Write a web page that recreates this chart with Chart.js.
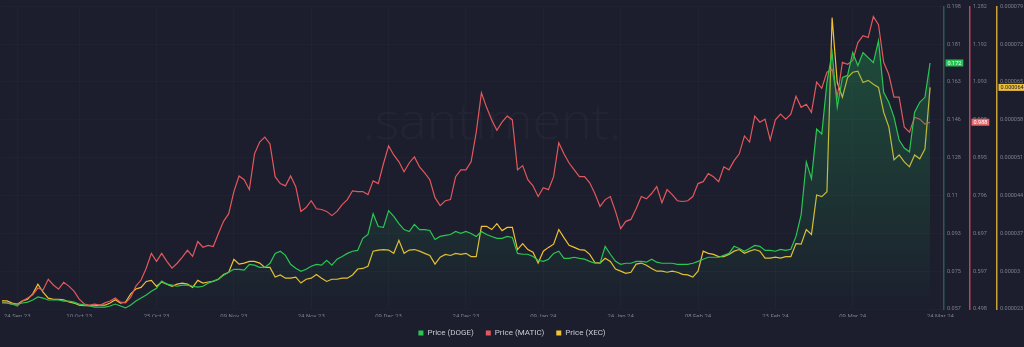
<!DOCTYPE html>
<html lang="en">
<head>
    <meta charset="UTF-8">
    <title>Price DOGE / MATIC / XEC</title>
    <style>
        html, body { margin: 0; padding: 0; background: #1c1d2d; overflow: hidden; }
    </style>
</head>
<body>
    <canvas id="myChart" width="1024" height="347"></canvas>

    <script src="https://cdn.jsdelivr.net/npm/chart.js"></script>
    <script>
        // x axis tick labels and where they sit (day index)
        const xLabels = ['24 Sep 23', '10 Oct 23', '25 Oct 23', '09 Nov 23', '24 Nov 23', '09 Dec 23', '24 Dec 23',
            '09 Jan 24', '24 Jan 24', '08 Feb 24', '23 Feb 24', '09 Mar 24', '24 Mar 24'];
        const xTickVals = [3, 15, 30, 45, 60, 75, 90, 105, 120, 135, 150, 165, 182];

        // right axes tick labels (bottom -> top)
        const dogeTicks = ['0.057', '0.075', '0.093', '0.11', '0.128', '0.146', '0.163', '0.181', '0.198'];
        const maticTicks = ['0.498', '0.597', '0.697', '0.796', '0.895', '0.995', '1.093', '1.192', '1.282'];
        const xecTicks = ['0.000023', '0.00003', '0.000037', '0.000044', '0.000051', '0.000058', '0.000065', '0.000072', '0.000079'];

        const dogePrice = [
            0.0602, 0.0602, 0.0597, 0.0597, 0.0602, 0.0606, 0.0616, 0.0630, 0.0625, 0.0616,
            0.0616, 0.0616, 0.0611, 0.0611, 0.0606, 0.0597, 0.0593, 0.0588, 0.0583, 0.0583,
            0.0583, 0.0588, 0.0597, 0.0588, 0.0579, 0.0593, 0.0611, 0.0625, 0.0639, 0.0657,
            0.0671, 0.0704, 0.0690, 0.0685, 0.0680, 0.0685, 0.0685, 0.0680, 0.0676, 0.0680,
            0.0694, 0.0704, 0.0713, 0.0731, 0.0745, 0.0759, 0.0759, 0.0755, 0.0782, 0.0778,
            0.0768, 0.0768, 0.0787, 0.0833, 0.0843, 0.0824, 0.0782, 0.0764, 0.0750, 0.0759,
            0.0773, 0.0782, 0.0778, 0.0801, 0.0778, 0.0806, 0.0819, 0.0833, 0.0843, 0.0847,
            0.0903, 0.0921, 0.1018, 0.0958, 0.0954, 0.1032, 0.1005, 0.0972, 0.0944, 0.0935,
            0.0968, 0.0944, 0.0944, 0.0940, 0.0898, 0.0912, 0.0917, 0.0921, 0.0935, 0.0926,
            0.0935, 0.0926, 0.0912, 0.0935, 0.0921, 0.0912, 0.0903, 0.0903, 0.0912, 0.0907,
            0.0833, 0.0829, 0.0829, 0.0819, 0.0801, 0.0796, 0.0806, 0.0833, 0.0843, 0.0810,
            0.0810, 0.0815, 0.0810, 0.0806, 0.0796, 0.0787, 0.0787, 0.0866, 0.0829, 0.0796,
            0.0782, 0.0787, 0.0787, 0.0796, 0.0796, 0.0792, 0.0806, 0.0792, 0.0787, 0.0787,
            0.0787, 0.0782, 0.0782, 0.0782, 0.0787, 0.0796, 0.0806, 0.0815, 0.0815, 0.0815,
            0.0824, 0.0833, 0.0866, 0.0856, 0.0843, 0.0856, 0.0870, 0.0866, 0.0847, 0.0847,
            0.0843, 0.0852, 0.0847, 0.0852, 0.0912, 0.1014, 0.1259, 0.1181, 0.1412, 0.1389,
            0.1630, 0.1769, 0.1514, 0.1653, 0.1662, 0.1769, 0.1708, 0.1769, 0.1745, 0.1722,
            0.1824, 0.1583, 0.1537, 0.1468, 0.1361, 0.1324, 0.1306, 0.1491, 0.1537, 0.1560,
            0.172
        ];

        const maticPrice = [
            0.516, 0.514, 0.511, 0.506, 0.519, 0.527, 0.535, 0.553, 0.548, 0.576,
            0.561, 0.550, 0.568, 0.558, 0.545, 0.524, 0.511, 0.508, 0.511, 0.508,
            0.514, 0.519, 0.527, 0.516, 0.514, 0.529, 0.558, 0.574, 0.605, 0.644,
            0.623, 0.644, 0.623, 0.605, 0.618, 0.634, 0.652, 0.636, 0.675, 0.660,
            0.665, 0.662, 0.696, 0.728, 0.748, 0.806, 0.847, 0.837, 0.811, 0.905,
            0.936, 0.949, 0.931, 0.845, 0.827, 0.821, 0.847, 0.819, 0.754, 0.764,
            0.782, 0.761, 0.759, 0.754, 0.743, 0.754, 0.772, 0.785, 0.808, 0.806,
            0.806, 0.798, 0.834, 0.827, 0.879, 0.926, 0.902, 0.884, 0.858, 0.881,
            0.897, 0.871, 0.855, 0.837, 0.790, 0.769, 0.782, 0.785, 0.845, 0.863,
            0.863, 0.884, 0.962, 1.065, 1.027, 0.994, 0.967, 0.988, 1.004, 0.994,
            0.863, 0.874, 0.837, 0.821, 0.793, 0.816, 0.811, 0.845, 0.934, 0.905,
            0.881, 0.863, 0.845, 0.845, 0.829, 0.801, 0.767, 0.785, 0.793, 0.754,
            0.709, 0.728, 0.733, 0.761, 0.793, 0.787, 0.801, 0.819, 0.777, 0.811,
            0.798, 0.782, 0.780, 0.782, 0.793, 0.827, 0.832, 0.853, 0.845, 0.832,
            0.871, 0.863, 0.887, 0.905, 0.952, 0.936, 1.004, 0.988, 0.996, 0.941,
            0.994, 1.009, 0.996, 1.009, 1.056, 1.027, 1.035, 1.014, 1.093, 1.077,
            1.119, 1.127, 1.054, 1.145, 1.140, 1.150, 1.197, 1.215, 1.210, 1.265,
            1.244, 1.145, 1.113, 1.054, 1.054, 0.975, 0.962, 1.001, 0.996, 0.983,
            0.988
        ];

        const xecPrice = [
            24.5e-6, 24.5e-6, 24.1e-6, 23.9e-6, 24.5e-6, 24.8e-6, 25.8e-6, 27.6e-6, 26.1e-6, 25.0e-6,
            24.8e-6, 24.8e-6, 24.7e-6, 24.3e-6, 24.1e-6, 23.7e-6, 23.6e-6, 23.6e-6, 23.6e-6, 23.7e-6,
            23.7e-6, 24.1e-6, 24.7e-6, 24.1e-6, 24.3e-6, 25.8e-6, 26.7e-6, 27.0e-6, 28.1e-6, 28.3e-6,
            27.2e-6, 28.0e-6, 27.6e-6, 27.2e-6, 27.6e-6, 27.8e-6, 27.6e-6, 27.0e-6, 28.3e-6, 27.8e-6,
            28.0e-6, 28.1e-6, 28.5e-6, 29.4e-6, 29.8e-6, 32.2e-6, 31.3e-6, 31.5e-6, 31.8e-6, 31.8e-6,
            31.5e-6, 30.7e-6, 30.7e-6, 28.9e-6, 29.3e-6, 28.7e-6, 28.7e-6, 28.9e-6, 27.8e-6, 28.5e-6,
            28.7e-6, 29.4e-6, 28.7e-6, 28.1e-6, 28.5e-6, 28.5e-6, 28.7e-6, 28.7e-6, 29.3e-6, 30.4e-6,
            30.5e-6, 30.9e-6, 33.7e-6, 33.9e-6, 34.0e-6, 33.9e-6, 33.3e-6, 35.7e-6, 33.3e-6, 33.9e-6,
            34.0e-6, 33.7e-6, 33.3e-6, 32.9e-6, 31.3e-6, 32.6e-6, 33.1e-6, 32.9e-6, 33.3e-6, 33.1e-6,
            33.3e-6, 32.7e-6, 32.7e-6, 38.3e-6, 38.3e-6, 37.7e-6, 38.8e-6, 37.5e-6, 38.1e-6, 38.1e-6,
            34.0e-6, 35.1e-6, 34.0e-6, 33.5e-6, 31.5e-6, 33.7e-6, 34.4e-6, 35.0e-6, 37.7e-6, 36.2e-6,
            34.8e-6, 34.4e-6, 34.0e-6, 33.9e-6, 33.1e-6, 31.6e-6, 31.5e-6, 32.4e-6, 31.8e-6, 30.4e-6,
            30.0e-6, 29.6e-6, 29.8e-6, 31.3e-6, 31.5e-6, 31.1e-6, 30.5e-6, 30.0e-6, 30.0e-6, 29.8e-6,
            30.0e-6, 29.8e-6, 29.4e-6, 29.3e-6, 28.9e-6, 30.0e-6, 33.7e-6, 33.3e-6, 33.1e-6, 32.7e-6,
            32.7e-6, 33.1e-6, 33.7e-6, 34.0e-6, 33.3e-6, 33.7e-6, 34.0e-6, 33.7e-6, 32.4e-6, 32.4e-6,
            32.6e-6, 32.4e-6, 32.7e-6, 32.7e-6, 35.1e-6, 35.0e-6, 37.7e-6, 36.8e-6, 44.1e-6, 43.8e-6,
            44.7e-6, 76.9e-6, 64.9e-6, 62.2e-6, 65.8e-6, 66.8e-6, 67.0e-6, 64.9e-6, 65.3e-6, 64.6e-6,
            64.0e-6, 59.4e-6, 56.7e-6, 50.6e-6, 51.5e-6, 50.2e-6, 49.3e-6, 51.5e-6, 50.8e-6, 52.6e-6,
            64.0e-6
        ];

        const dias = dogePrice.map((_, i) => i);
        const casas = [3, 3, 6];
        const corEtiqueta = ['#26c152', '#e4686c', '#eec03c'];
        const corTextoEtiqueta = ['#ffffff', '#ffffff', '#1c1d2d'];
        const fonte = 'Roboto';

        function eixoY(min, max, rotulos, corBorda, largura, grade) {
            return {
                type: 'linear',
                position: 'right',
                min: min,
                max: max,
                afterBuildTicks: function (s) {
                    s.ticks = rotulos.map((_, k) => ({ value: min + (max - min) * k / (rotulos.length - 1) }));
                },
                afterFit: function (s) { s.width = largura; },
                ticks: {
                    callback: (v, k) => rotulos[k],
                    color: '#7d808d',
                    font: { size: 5.5, family: fonte },
                    padding: 3,
                    crossAlign: 'near'
                },
                grid: { display: grade, drawTicks: false, color: 'rgba(255,255,255,0.025)' },
                border: { display: true, color: corBorda, width: 1.5 }
            };
        }

        // faint santiment watermark + last value badges
        const marcaDagua = {
            id: 'marcaDagua',
            beforeDatasetsDraw(chart) {
                const c = chart.ctx;
                c.save();
                c.font = '300 52px "Open Sans"';
                c.fillStyle = 'rgba(255,255,255,0.03)';
                c.textAlign = 'center';
                c.textBaseline = 'middle';
                c.fillText('.santiment.', 492, 124);
                c.restore();
            }
        };

        const etiquetas = {
            id: 'etiquetas',
            afterDraw(chart) {
                const c = chart.ctx;
                c.save();
                c.font = '5.5px ' + fonte;
                c.textAlign = 'left';
                c.textBaseline = 'middle';
                chart.data.datasets.forEach((ds, i) => {
                    const esc = chart.scales[ds.yAxisID];
                    const ultimo = ds.data[ds.data.length - 1];
                    const y = esc.getPixelForValue(ultimo);
                    const txt = ultimo.toFixed(casas[i]);
                    const w = c.measureText(txt).width + 4;
                    c.fillStyle = corEtiqueta[i];
                    c.fillRect(esc.left + 1.5, y - 3.5, w, 7);
                    c.fillStyle = corTextoEtiqueta[i];
                    c.fillText(txt, esc.left + 3.5, y + 0.5);
                });
                c.restore();
            }
        };

        const ctx = document.getElementById('myChart');

        new Chart(ctx, {
            type: 'line',
            data: {
                labels: dias,
                datasets: [{
                    label: 'Price (DOGE)',
                    data: dogePrice,
                    yAxisID: 'yDoge',
                    borderColor: '#2bc652',
                    borderWidth: 1.2,
                    fill: 'start',
                    backgroundColor: function (c) {
                        const a = c.chart.chartArea;
                        if (!a) return 'rgba(0,0,0,0)';
                        const g = c.chart.ctx.createLinearGradient(0, a.top, 0, a.bottom);
                        g.addColorStop(0, 'rgba(36,160,84,0.40)');
                        g.addColorStop(0.6, 'rgba(36,160,84,0.18)');
                        g.addColorStop(1, 'rgba(36,160,84,0.02)');
                        return g;
                    }
                }, {
                    label: 'Price (MATIC)',
                    data: maticPrice,
                    yAxisID: 'yMatic',
                    borderColor: '#e2585c',
                    borderWidth: 1.2,
                    fill: false
                }, {
                    label: 'Price (XEC)',
                    data: xecPrice,
                    yAxisID: 'yXec',
                    borderColor: '#f1c232',
                    borderWidth: 1.2,
                    fill: false
                }]
            },
            options: {
                responsive: false,
                animation: false,
                elements: { point: { radius: 0 }, line: { tension: 0 } },
                layout: { padding: 0 },
                scales: {
                    x: {
                        type: 'linear',
                        min: 0,
                        max: 182.7,
                        afterBuildTicks: function (s) {
                            s.ticks = xTickVals.map(v => ({ value: v }));
                        },
                        afterFit: function (s) { s.height = 8; },
                        ticks: {
                            callback: (v, k) => xLabels[k],
                            color: '#7d808d',
                            font: { size: 6, family: fonte },
                            maxRotation: 0,
                            autoSkip: false,
                            padding: 4
                        },
                        grid: { color: 'rgba(255,255,255,0.02)', drawTicks: false },
                        border: { display: false }
                    },
                    yDoge: eixoY(0.0574, 0.1984, dogeTicks, '#2c5a58', 26, true),
                    yMatic: eixoY(0.498, 1.292, maticTicks, '#b9475a', 27, false),
                    yXec: eixoY(0.000023, 0.000079, xecTicks, '#c9a23a', 27, false)
                },
                plugins: {
                    tooltip: { enabled: false },
                    legend: {
                        position: 'bottom',
                        labels: {
                            boxWidth: 5,
                            boxHeight: 5,
                            padding: 12,
                            color: '#c9cbd3',
                            font: { size: 8, family: fonte },
                            generateLabels: chart => chart.data.datasets.map((ds, i) => ({
                                text: ds.label,
                                fillStyle: ds.borderColor,
                                strokeStyle: ds.borderColor,
                                lineWidth: 0,
                                fontColor: '#c9cbd3',
                                hidden: false,
                                datasetIndex: i
                            }))
                        }
                    }
                }
            },
            plugins: [marcaDagua, etiquetas]
        });
    </script>
</body>
</html>
